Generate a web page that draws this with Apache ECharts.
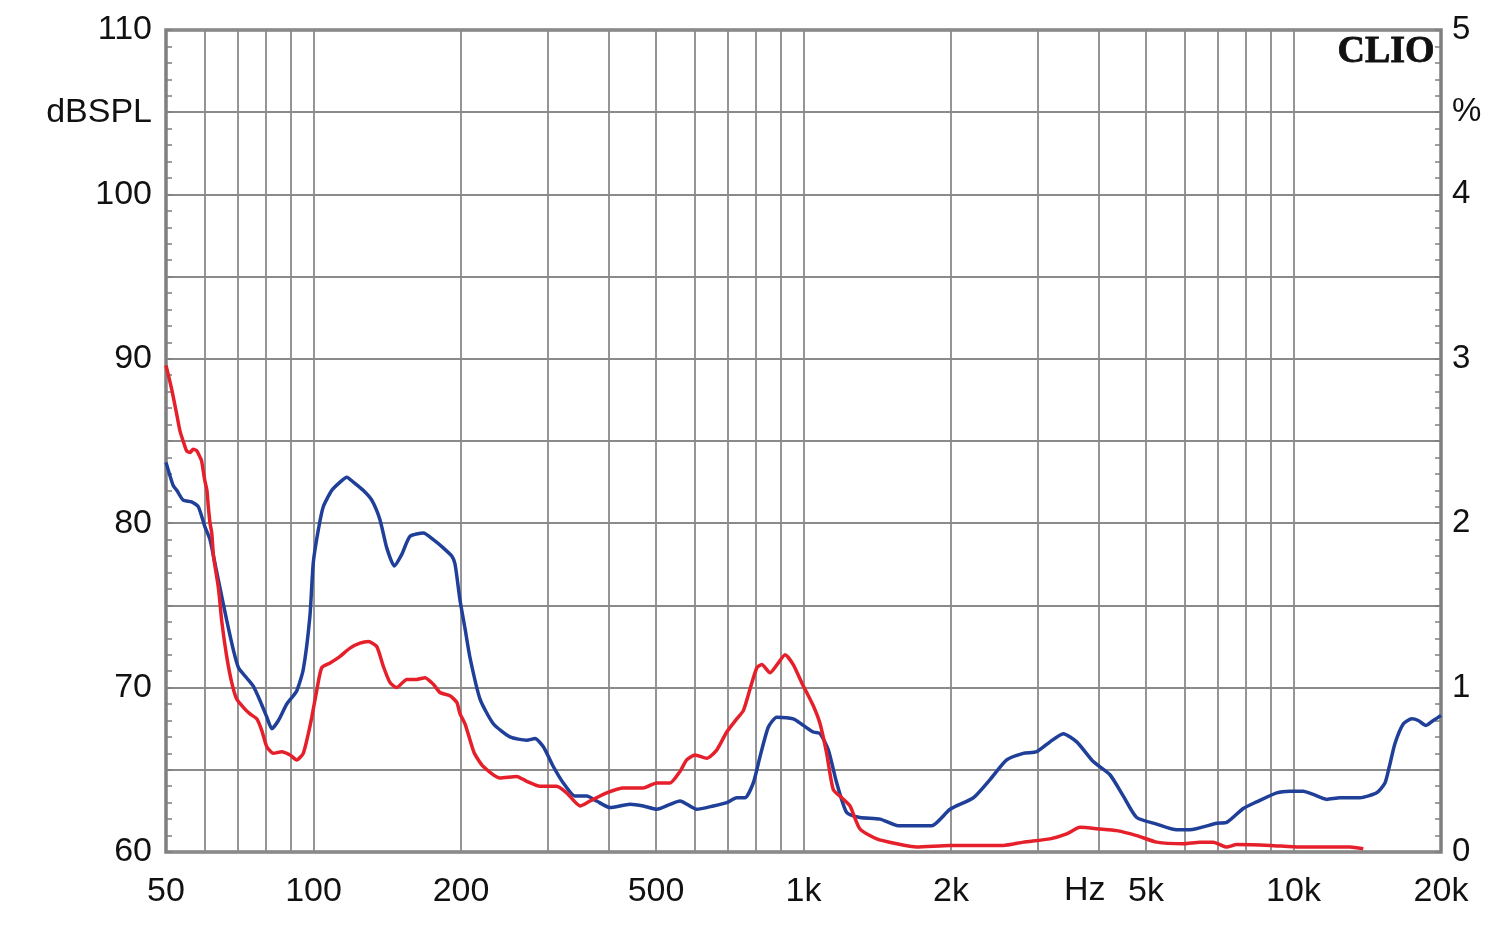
<!DOCTYPE html>
<html>
<head>
<meta charset="utf-8">
<script src="https://cdn.jsdelivr.net/npm/echarts@6/dist/echarts.min.js"></script>
<style>
html,body{margin:0;padding:0;background:#fff;}
#chart{width:1500px;height:929px;}
</style>
</head>
<body>
<div id="chart"></div>
<script>
// Frequency (Hz) grid lines and labelled ticks
var gridFreqs = [60,70,80,90,100,200,300,400,500,600,700,800,900,1000,2000,3000,4000,5000,6000,7000,8000,9000,10000];
var labelFreqs = [50,100,200,500,1000,2000,5000,10000,20000];
var leftLabels = {110:'110',105:'dBSPL',100:'100',90:'90',80:'80',70:'70',60:'60'};
var rightLabels = {5:'5',4.5:'%',4:'4',3:'3',2:'2',1:'1',0:'0'};

// Blue curve: [frequency Hz, dBSPL]
var blueFreq = [50,51.7,52.6,54.2,56.4,58.2,60,61.5,62.5,64.5,66.5,68.6,70.3,73,75.3,77.8,80.3,82.2,84.8,88.2,92.4,95.3,98.3,99.9,102.3,104.7,109,113.3,116.9,120.6,126.3,131.5,136.7,141.1,146.2,151.4,157.4,167.6,175.6,184,191.5,194.5,199.1,203.8,208.7,218.7,232.8,251.8,272.3,283.2,294.5,308.6,323.4,341.7,361.1,378.4,402.8,442.6,471.1,501.6,534.1,559.7,605.5,654.5,697.2,730.6,759.6,789.8,815.2,847.8,881.8,953,998.9,1047,1081,1124,1169,1225,1304,1433,1561,1650,1827,1991,2222,2402,2598,2809,2992,3185,3390,3611,3903,4221,4495,4786,5256,5776,6146,6972,7305,7898,8411,9241,9839,10470,10970,11690,12440,13670,14780,15370,15690,16110,16760,17430,17970,18640,19290,20000];
var blueDb = [83.7,82.3,82.0,81.4,81.3,81.0,79.8,79.0,78.0,76.0,74.1,72.3,71.2,70.6,70.1,69.2,68.2,67.5,68.0,69.0,69.8,71.1,74.3,77.6,79.6,81.0,82.0,82.5,82.8,82.5,82.0,81.4,80.2,78.5,77.4,78.1,79.2,79.4,79.0,78.5,78.0,77.5,75.3,73.6,71.8,69.3,67.8,67.0,66.8,66.9,66.4,65.2,64.2,63.4,63.4,63.1,62.7,62.9,62.8,62.6,62.9,63.1,62.6,62.8,63.0,63.3,63.3,64.2,65.8,67.6,68.2,68.1,67.7,67.3,67.2,66.2,64.2,62.4,62.1,62.0,61.6,61.6,61.6,62.6,63.3,64.4,65.6,66.0,66.1,66.7,67.2,66.7,65.5,64.7,63.4,62.1,61.7,61.35,61.35,61.75,61.8,62.65,63.05,63.6,63.7,63.7,63.5,63.2,63.3,63.3,63.6,64.2,65.2,66.6,67.8,68.1,68.0,67.7,68.0,68.3];

// Red curve: [frequency Hz, dBSPL]
var redFreq = [50,51.4,52.6,53.4,54.2,55.1,56,56.8,57.8,58.7,59.1,60,60.6,61,61.5,62,62.5,64,65,66.5,68.1,69.7,71.9,74.2,76.6,78.4,80.3,82.8,86.1,89.6,92.4,95.3,97.6,99.2,101.5,103.9,108.1,113.3,118.7,124.4,129.4,134.6,138.8,143.3,147.8,155,162.4,168.9,175.6,181.2,189.9,196.1,199.1,203.8,208.7,213,222.1,240.2,259.8,272.3,289.9,313.5,328.6,349.9,366.6,396.6,428.9,471.1,501.6,534.1,559.7,577.5,600.6,634.6,665,697.2,730.6,753.7,777.6,803,822,854.6,888.5,916.9,953,991.6,1047,1081,1115,1150,1197,1244,1304,1411,1550,1702,1991,2557,2809,3185,3444,3667,4028,4357,4786,5256,5959,6444,6858,7305,7655,8955,10310,13040,13880];
var redDb = [89.6,88.1,86.6,85.6,85.0,84.4,84.3,84.5,84.4,84.0,83.8,82.6,82.0,81.0,80.0,79.4,78.0,76.0,74.0,71.9,70.3,69.3,68.8,68.4,68.1,67.4,66.4,66.0,66.1,65.9,65.6,66.0,67.2,68.2,69.8,71.2,71.5,71.9,72.4,72.7,72.8,72.5,71.3,70.3,70.0,70.5,70.5,70.6,70.2,69.7,69.5,69.1,68.4,67.8,66.8,66.0,65.2,64.5,64.6,64.3,64.0,64.0,63.6,62.8,63.1,63.6,63.9,63.9,64.2,64.2,64.9,65.6,65.9,65.7,66.2,67.3,68.1,68.6,69.9,71.2,71.4,70.9,71.5,72.0,71.4,70.3,68.9,67.8,66.0,63.8,63.3,62.8,61.4,60.8,60.5,60.3,60.4,60.4,60.6,60.8,61.1,61.5,61.4,61.3,61.0,60.6,60.5,60.6,60.6,60.3,60.45,60.4,60.3,60.3,60.2];

function pairs(xs, ys){ return xs.map(function(x,i){ return [x, ys[i]]; }); }

var fontFam = '"Liberation Sans", Arial, sans-serif';
var gridColor = '#8a8a8a';
var axisColor = '#7f7f7f';

var chart = echarts.init(document.getElementById('chart'), null, {renderer:'canvas'});
chart.setOption({
  backgroundColor: '#ffffff',
  animation: false,
  grid: {left:166, right:59, top:30, bottom:77, show:true, borderColor:axisColor, borderWidth:3.5, backgroundColor:'transparent'},
  xAxis: {
    type:'log', logBase:10, min:50, max:20000,
    axisLine:{show:false},
    axisTick:{show:false, customValues:gridFreqs},
    axisLabel:{
      customValues:labelFreqs, margin:23, fontSize:34, color:'#111', fontFamily:fontFam,
      formatter:function(v){ return v>=1000 ? (v/1000)+'k' : String(v); }
    },
    splitLine:{show:true, lineStyle:{color:gridColor, width:1.8}}
  },
  yAxis: [{
    type:'value', min:60, max:110, interval:5, position:'left',
    axisLine:{show:false},
    axisTick:{show:true, inside:true, length:6, lineStyle:{color:axisColor, width:1.5}},
    minorTick:{show:true, splitNumber:5, length:6, lineStyle:{color:axisColor, width:1.5}},
    axisLabel:{margin:14, fontSize:34, color:'#111', fontFamily:fontFam,
      formatter:function(v){ return leftLabels[v] !== undefined ? leftLabels[v] : ''; }},
    splitLine:{show:true, lineStyle:{color:gridColor, width:1.8}}
  },{
    type:'value', min:0, max:5, interval:0.5, position:'right',
    axisLine:{show:false},
    axisTick:{show:true, inside:true, length:6, lineStyle:{color:axisColor, width:1.5}},
    minorTick:{show:true, splitNumber:5, length:6, lineStyle:{color:axisColor, width:1.5}},
    axisLabel:{margin:11, fontSize:33, color:'#111', fontFamily:fontFam,
      formatter:function(v){ var k = Math.round(v*10)/10; return rightLabels[k] !== undefined ? rightLabels[k] : ''; }},
    splitLine:{show:false}
  }],
  graphic: [
    {type:'text', left:1064, top:874, style:{text:'Hz', font:'34px "Liberation Sans", Arial, sans-serif', fill:'#111'}},
    {type:'text', right:65, top:33, style:{text:'CLIO', font:'bold 38px "Liberation Serif", "Times New Roman", serif', fill:'#111', stroke:'#111', lineWidth:0.8}}
  ],
  series: [
    {type:'line', name:'blue', yAxisIndex:0, data:pairs(blueFreq, blueDb), showSymbol:false, smooth:0.2,
     lineStyle:{color:'#1f3f98', width:3.5}, z:3},
    {type:'line', name:'red', yAxisIndex:0, data:pairs(redFreq, redDb), showSymbol:false, smooth:0.2,
     lineStyle:{color:'#e5202a', width:3.5}, z:4}
  ]
});
</script>
</body>
</html>
